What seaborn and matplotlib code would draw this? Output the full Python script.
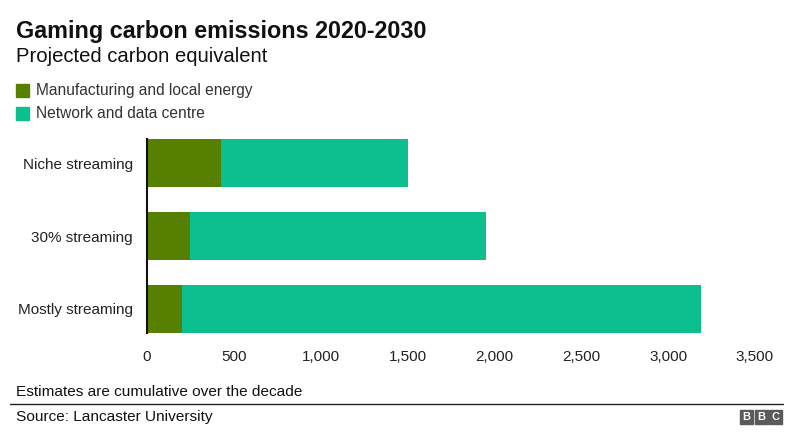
import numpy as np
import pandas as pd
import matplotlib.pyplot as plt
import seaborn as sns
from matplotlib.patches import Rectangle

# --- data ---
scenarios = ['Niche streaming', '30% streaming', 'Mostly streaming']
manufacturing = [425, 250, 200]
network = [1075, 1700, 2990]
x_ticks = [0, 500, 1000, 1500, 2000, 2500, 3000, 3500]

DARK_GREEN = '#588000'
TEAL = '#0cbf8e'

sns.set_style('white')
plt.rcParams['font.family'] = ['Liberation Sans', 'DejaVu Sans']


def main():
    df = pd.DataFrame({
        'scenario': scenarios,
        'manufacturing': manufacturing,
        'network': network,
    })
    df['total'] = df['manufacturing'] + df['network']

    fig = plt.figure(figsize=(8, 4.47), dpi=100)
    ax = fig.add_axes([0.18375, 0.255, 0.76, 0.434])

    # stacked bars: total underneath, manufacturing drawn over it
    sns.barplot(data=df, x='total', y='scenario', color=TEAL, width=0.66,
                saturation=1, orient='h', linewidth=0, ax=ax)
    sns.barplot(data=df, x='manufacturing', y='scenario', color=DARK_GREEN,
                width=0.66, saturation=1, orient='h', linewidth=0, ax=ax)

    ax.set_xlim(0, 3500)
    ax.set_ylim(2.33, -0.33)
    ax.set_xticks(x_ticks)
    ax.set_xticklabels([f'{v:,}' for v in x_ticks])
    ax.set_xlabel('')
    ax.set_ylabel('')
    ax.tick_params(axis='both', length=0, labelsize=11, colors='#222222')
    ax.tick_params(axis='x', pad=12)
    ax.tick_params(axis='y', pad=10)
    for side in ['top', 'right', 'bottom']:
        ax.spines[side].set_visible(False)
    ax.spines['left'].set_color('#111111')
    ax.spines['left'].set_linewidth(1.5)

    # titles
    fig.text(0.02, 0.915, 'Gaming carbon emissions 2020-2030', fontsize=16.8,
             fontweight='bold', color='#111111')
    fig.text(0.02, 0.862, 'Projected carbon equivalent', fontsize=14.6,
             color='#111111')

    # legend
    for i, (label, col) in enumerate([('Manufacturing and local energy', DARK_GREEN),
                                      ('Network and data centre', TEAL)]):
        y = 1 - (84 + i * 23) / 447
        fig.patches.append(Rectangle((16 / 800, y - 13 / 447), 13 / 800, 13 / 447,
                                     transform=fig.transFigure, color=col))
        fig.text(36 / 800, y - 6.5 / 447, label, fontsize=11.2, va='center',
                 color='#333333')

    # footer
    fig.text(0.02, 1 - 392 / 447, 'Estimates are cumulative over the decade',
             fontsize=11.1, va='center', color='#111111')
    fig.add_artist(plt.Line2D([10 / 800, 783 / 800], [1 - 404 / 447, 1 - 404 / 447],
                              transform=fig.transFigure, color='#222222', lw=1))
    fig.text(0.02, 1 - 417 / 447, 'Source: Lancaster University',
             fontsize=11.1, va='center', color='#111111')

    # BBC blocks
    for i, letter in enumerate('BBC'):
        x0 = 740 + i * 14.5
        fig.patches.append(Rectangle((x0 / 800, 1 - 424 / 447), 13 / 800, 14 / 447,
                                     transform=fig.transFigure, color='#5a5a5a'))
        fig.text((x0 + 6.5) / 800, 1 - 417 / 447, letter, fontsize=8,
                 fontweight='bold', color='white', ha='center', va='center')

    fig.savefig('out.png', dpi=100, facecolor='white')


if __name__ == '__main__':
    main()
